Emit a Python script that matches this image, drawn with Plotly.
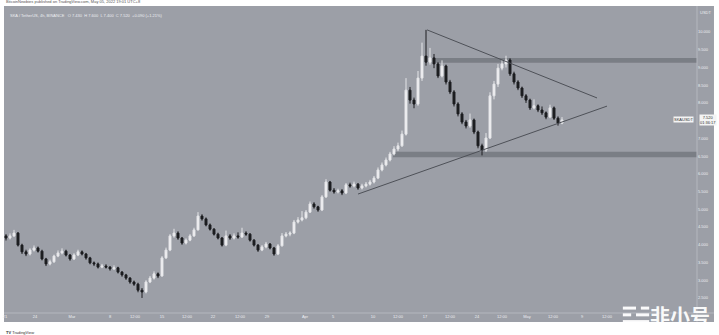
import plotly.graph_objects as go

# ---------------- data ----------------
opens = [4.25, 4.19, 4.25, 4.33, 3.99, 3.80, 3.74, 3.85, 3.91, 3.82,
         3.60, 3.46, 3.52, 3.68, 3.77, 3.82, 3.71, 3.60, 3.71, 3.80,
         3.74, 3.63, 3.49, 3.46, 3.37, 3.40, 3.37, 3.32, 3.35, 3.23,
         3.15, 3.06, 2.95, 2.89, 2.72, 2.67, 2.95, 3.06, 3.18, 3.12,
         3.63, 3.85, 4.25, 4.33, 4.19, 4.05, 4.13, 4.25, 4.42, 4.81,
         4.73, 4.56, 4.44, 4.30, 4.19, 3.99, 4.25, 4.19, 4.25, 4.22,
         4.33, 4.30, 4.13, 3.99, 3.85, 3.94, 4.02, 3.91, 3.74, 3.97,
         4.25, 4.30, 4.33, 4.64, 4.70, 4.76, 4.92, 5.15, 5.07, 4.98,
         5.35, 5.77, 5.54, 5.49, 5.52, 5.46, 5.69, 5.66, 5.71, 5.60,
         5.66, 5.71, 5.77, 5.88, 6.11, 6.25, 6.39, 6.56, 6.70, 6.79,
         7.12, 8.36, 8.08, 7.97, 8.70, 9.32, 9.15, 9.27, 9.10, 8.76,
         9.04, 8.59, 8.31, 7.97, 7.69, 7.46, 7.35, 7.52, 7.18, 6.79,
         6.67, 7.01, 8.20, 8.53, 8.98, 9.10, 9.21, 8.82, 8.59, 8.42,
         8.20, 8.08, 7.86, 7.92, 7.80, 7.72, 7.60, 7.86, 7.57, 7.43]
closes = [4.19, 4.25, 4.33, 3.99, 3.80, 3.74, 3.85, 3.91, 3.82, 3.60,
          3.46, 3.52, 3.68, 3.77, 3.82, 3.71, 3.60, 3.71, 3.80, 3.74,
          3.63, 3.49, 3.46, 3.37, 3.40, 3.37, 3.32, 3.35, 3.23, 3.15,
          3.06, 2.95, 2.89, 2.72, 2.67, 2.95, 3.06, 3.18, 3.12, 3.63,
          3.85, 4.25, 4.33, 4.19, 4.05, 4.13, 4.25, 4.42, 4.81, 4.73,
          4.56, 4.44, 4.30, 4.19, 3.99, 4.25, 4.19, 4.25, 4.22, 4.33,
          4.30, 4.13, 3.99, 3.85, 3.94, 4.02, 3.91, 3.74, 3.97, 4.25,
          4.30, 4.33, 4.64, 4.70, 4.76, 4.92, 5.15, 5.07, 4.98, 5.35,
          5.77, 5.54, 5.49, 5.52, 5.46, 5.69, 5.66, 5.71, 5.60, 5.66,
          5.71, 5.77, 5.88, 6.11, 6.25, 6.39, 6.56, 6.70, 6.79, 7.12,
          8.36, 8.08, 7.97, 8.70, 9.32, 9.15, 9.27, 9.10, 8.76, 9.04,
          8.59, 8.31, 7.97, 7.69, 7.46, 7.35, 7.52, 7.18, 6.79, 6.67,
          7.01, 8.20, 8.53, 8.98, 9.10, 9.21, 8.82, 8.59, 8.42, 8.20,
          8.08, 7.86, 7.92, 7.80, 7.72, 7.60, 7.86, 7.57, 7.43, 7.52]
highs = [4.30, 4.32, 4.42, 4.36, 4.03, 3.86, 3.90, 3.98, 3.95, 3.86,
         3.63, 3.58, 3.72, 3.84, 3.90, 3.86, 3.74, 3.76, 3.86, 3.84,
         3.77, 3.66, 3.53, 3.50, 3.46, 3.45, 3.40, 3.42, 3.38, 3.26,
         3.18, 3.09, 2.99, 2.93, 2.78, 3.00, 3.12, 3.25, 3.22, 3.68,
         3.92, 4.30, 4.45, 4.38, 4.22, 4.18, 4.30, 4.48, 4.92, 4.86,
         4.77, 4.60, 4.47, 4.34, 4.22, 4.40, 4.30, 4.32, 4.35, 4.48,
         4.38, 4.33, 4.16, 4.02, 3.99, 4.08, 4.05, 3.94, 4.02, 4.33,
         4.36, 4.38, 4.70, 4.78, 4.95, 4.98, 5.22, 5.20, 5.10, 5.40,
         5.85, 5.80, 5.60, 5.58, 5.57, 5.74, 5.75, 5.78, 5.74, 5.72,
         5.77, 5.83, 5.94, 6.18, 6.32, 6.46, 6.62, 6.78, 6.88, 7.22,
         8.70, 8.45, 8.15, 8.90, 9.70, 10.06, 9.55, 9.38, 9.15, 9.20,
         9.08, 8.65, 8.36, 8.02, 7.74, 7.52, 7.70, 7.56, 7.22, 6.85,
         7.15, 8.30, 8.62, 9.10, 9.20, 9.33, 9.26, 8.88, 8.64, 8.46,
         8.25, 8.12, 8.10, 7.96, 7.90, 7.76, 7.95, 7.90, 7.62, 7.60]
lows = [4.12, 4.15, 4.22, 3.95, 3.74, 3.68, 3.70, 3.81, 3.78, 3.56,
        3.40, 3.42, 3.49, 3.65, 3.73, 3.67, 3.55, 3.57, 3.68, 3.70,
        3.58, 3.45, 3.40, 3.33, 3.34, 3.33, 3.27, 3.29, 3.19, 3.10,
        3.01, 2.90, 2.84, 2.66, 2.50, 2.63, 2.92, 3.02, 3.06, 3.10,
        3.60, 3.82, 4.20, 4.14, 4.00, 4.01, 4.10, 4.22, 4.40, 4.68,
        4.52, 4.40, 4.26, 4.15, 3.95, 3.96, 4.14, 4.15, 4.17, 4.19,
        4.25, 4.09, 3.95, 3.80, 3.82, 3.90, 3.87, 3.69, 3.71, 3.95,
        4.21, 4.24, 4.30, 4.60, 4.66, 4.72, 4.90, 5.02, 4.93, 4.95,
        5.32, 5.50, 5.44, 5.45, 5.40, 5.43, 5.61, 5.62, 5.55, 5.56,
        5.62, 5.67, 5.73, 5.85, 6.07, 6.21, 6.35, 6.52, 6.64, 6.76,
        7.08, 7.98, 7.85, 7.92, 8.62, 9.05, 9.08, 8.98, 8.70, 8.72,
        8.52, 8.25, 7.90, 7.62, 7.40, 7.28, 7.30, 7.12, 6.72, 6.52,
        6.62, 6.98, 8.10, 8.45, 8.92, 9.00, 8.76, 8.52, 8.36, 8.14,
        8.00, 7.80, 7.82, 7.74, 7.66, 7.54, 7.57, 7.52, 7.36, 7.40]
bar_index = list(range(len(closes)))

# drawings (bar index, price)
upper_trend = [(105.25, 10.06), (147.75, 8.14)]
lower_trend = [(88.0, 5.43), (150.25, 7.91)]
resistance_zone = [106.75, 9.13, 9.27]   # start, low, high
support_zone = [96.75, 6.47, 6.62]

# 7.500 is hidden behind the last-price box in the reference
y_ticks = [10.0, 9.5, 9.0, 8.5, 8.0, 7.0, 6.5, 6.0, 5.5, 5.0, 4.5, 4.0, 3.5, 3.0, 2.5]
x_tick_pos = [-0.25, 7.25, 16.5, 26, 32.25, 39, 45.25, 51.75, 58.5, 65.25, 74.75, 81.75,
              91.75, 98, 104.75, 111, 117.75, 124, 130.25, 136.75, 144, 150.25]
x_tick_txt = ["21", "24", "Mar", "8", "12:00", "15", "12:00", "22", "12:00", "29", "Apr", "5",
              "10", "12:00", "17", "12:00", "24", "12:00", "May", "12:00", "9", "12:00"]

X_RANGE = [-0.5, 172.75]
Y_RANGE = [2.076, 10.733]

BG = "#9c9fa7"
TXT = "#eceef2"

fig = go.Figure()
fig.add_trace(go.Candlestick(
    x=bar_index, open=opens, high=highs, low=lows, close=closes,
    increasing=dict(line=dict(color="#e4e5e8", width=1), fillcolor="#f4f4f6"),
    decreasing=dict(line=dict(color="#1c1d20", width=1), fillcolor="#1c1d20"),
    whiskerwidth=0, showlegend=False, hoverinfo="skip"))

shapes = []
# right price-axis strip and bottom time-axis strip
shapes.append(dict(type="rect", xref="paper", yref="paper", x0=1.0, x1=1.0245, y0=-0.0293, y1=1,
                   fillcolor=BG, line=dict(width=0), layer="below"))
shapes.append(dict(type="rect", xref="paper", yref="paper", x0=0, x1=1.0245, y0=-0.0293, y1=0,
                   fillcolor=BG, line=dict(width=0), layer="below"))
shapes.append(dict(type="line", xref="paper", yref="paper", x0=1.0, x1=1.0, y0=-0.0293, y1=1,
                   line=dict(color="#b4b7be", width=1)))
shapes.append(dict(type="line", xref="paper", yref="paper", x0=0, x1=1.0245, y0=0, y1=0,
                   line=dict(color="#b4b7be", width=1)))
# zones
for z in (resistance_zone, support_zone):
    shapes.append(dict(type="rect", xref="x", yref="y", x0=z[0], x1=X_RANGE[1], y0=z[1], y1=z[2],
                       fillcolor="rgba(95,98,106,0.55)", line=dict(width=0), layer="below"))
# trend lines
for ln in (upper_trend, lower_trend):
    shapes.append(dict(type="line", xref="x", yref="y", x0=ln[0][0], y0=ln[0][1],
                       x1=ln[1][0], y1=ln[1][1], line=dict(color="#4e5158", width=1)))
# watermark logo bars
for (a, b, yy) in [(0.893, 0.912, 0.016), (0.919, 0.931, 0.016),
                   (0.893, 0.905, -0.006), (0.912, 0.931, -0.006),
                   (0.893, 0.931, -0.028)]:
    shapes.append(dict(type="line", xref="paper", yref="paper", x0=a, x1=b, y0=yy, y1=yy,
                       line=dict(color="rgba(255,255,255,0.95)", width=3)))

annotations = [
    dict(text="BitcoinNewbies published on TradingView.com, May 05, 2022 19:01 UTC+8",
         xref="paper", yref="paper", x=0.0, y=1.0, xanchor="left", yanchor="bottom",
         showarrow=False, font=dict(size=4, color="#555", family="Liberation Sans")),
    dict(text="SKA / TetherUS, 4h, BINANCE   O 7.430  H 7.600  L 7.400  C 7.520  +0.090 (+1.21%)",
         xref="paper", yref="paper", x=0.006, y=0.985, xanchor="left", yanchor="top",
         showarrow=False, font=dict(size=4, color=TXT, family="Liberation Sans")),
    dict(text="USDT", xref="paper", yref="paper", x=1.012, y=0.98, xanchor="center",
         yanchor="middle", showarrow=False, font=dict(size=4, color=TXT, family="Liberation Sans")),
    dict(text="SKAUSDT", xref="paper", yref="y", x=0.996, y=closes[-1], xanchor="right",
         yanchor="middle", showarrow=False, bgcolor="#f4f4f4", borderpad=0,
         font=dict(size=4, color="#333", family="Liberation Sans")),
    dict(text=f"{closes[-1]:.3f}<br>01:36:17", xref="paper", yref="y", x=1.003, y=closes[-1],
         xanchor="left", yanchor="middle", showarrow=False, bgcolor="#f4f4f4", borderpad=0,
         font=dict(size=4, color="#333", family="Liberation Sans")),
    dict(text="<b>非小号</b>", xref="paper", yref="paper", x=1.022, y=-0.008, xanchor="right",
         yanchor="middle", showarrow=False,
         font=dict(size=20, color="rgba(255,255,255,0.95)", family="Noto Sans CJK SC")),
    dict(text="<b>TV</b> TradingView", xref="paper", yref="paper", x=0.0, y=-0.05,
         xanchor="left", yanchor="top", showarrow=False,
         font=dict(size=4, color="#333", family="Liberation Sans")),
]

fig.update_layout(
    width=719, height=335,
    margin=dict(l=4, r=22, t=6, b=22),
    paper_bgcolor="white", plot_bgcolor=BG,
    shapes=shapes, annotations=annotations,
    xaxis=dict(range=X_RANGE, showgrid=False, zeroline=False, rangeslider=dict(visible=False),
               tickmode="array", tickvals=x_tick_pos, ticktext=x_tick_txt, ticks="",
               tickfont=dict(size=4, color=TXT, family="Liberation Sans"), showline=False,
               fixedrange=True),
    yaxis=dict(range=Y_RANGE, side="right", showgrid=False, zeroline=False,
               tickmode="array", tickvals=y_ticks, ticktext=[f"{v:.3f}" for v in y_ticks],
               ticks="", tickfont=dict(size=4, color=TXT, family="Liberation Sans"),
               showline=False, fixedrange=True),
)

fig.write_html("out.html")
